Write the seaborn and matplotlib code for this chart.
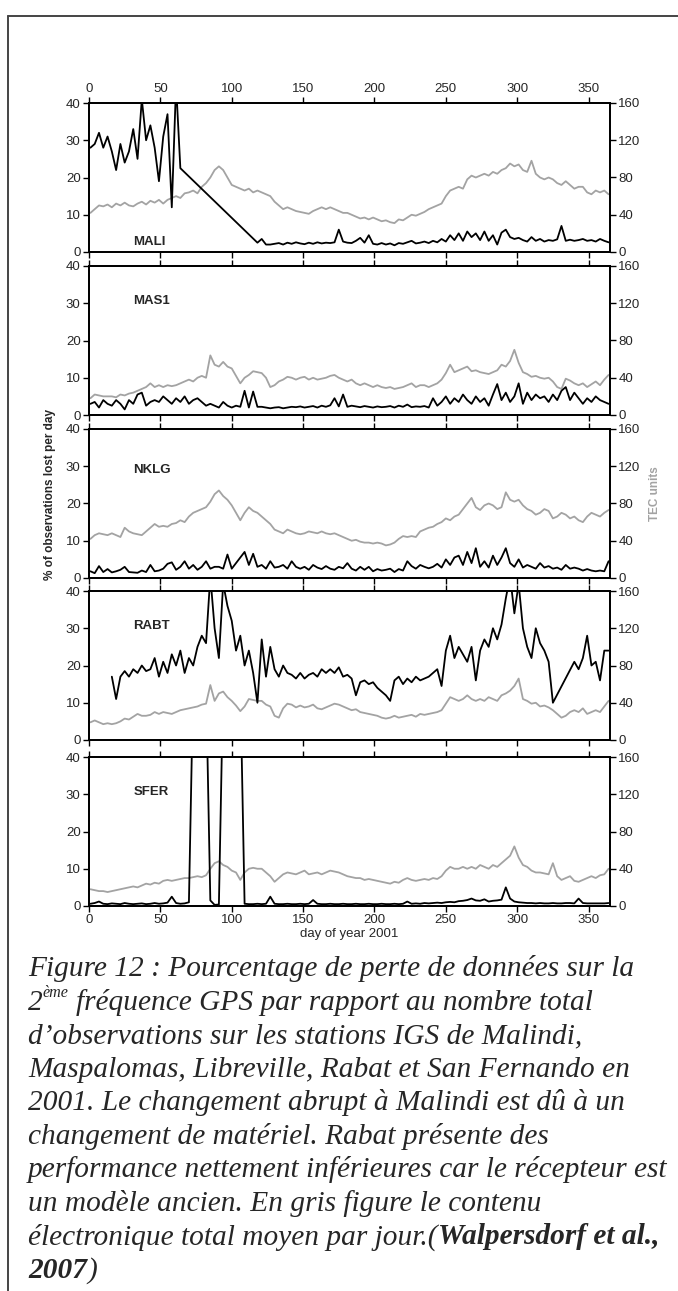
import matplotlib
matplotlib.use("Agg")
import matplotlib.pyplot as plt
from matplotlib.lines import Line2D
import numpy as np
import pandas as pd
import seaborn as sns

nan = np.nan

# day of year, sampled every 3 days (rows of 10 = 30 days)
days = list(range(1, 366, 3))
stations = ["MALI", "MAS1", "NKLG", "RABT", "SFER"]

# % of observations lost per day (left axis)
mali_lost = [28, 29, 32, 28, 31, 27, 22, 29, 24, 27,
             33, 25, 41, 30, 34, 28, 19, 31, 37, 12,
             45, 22.5, nan, nan, nan, nan, nan, nan, nan, nan,
             nan, nan, nan, nan, nan, nan, nan, nan, nan, 2.5,
             3.5, 2, 2, 2.2, 2.4, 2, 2.5, 2.2, 2.6, 2.3,
             2.1, 2.5, 2.2, 2.6, 2.3, 2.5, 2.4, 2.6, 6, 2.8,
             2.5, 2.4, 3, 3.8, 2.5, 4.5, 2.2, 2, 2.4, 2,
             2.3, 1.8, 2.4, 2.2, 2.6, 3, 2.3, 2.5, 2.8, 2.4,
             3, 2.6, 3.5, 2.8, 4.5, 3.2, 5, 3, 5.5, 4,
             5, 3.2, 5.5, 3, 4.5, 2, 5.2, 6, 4, 3.5,
             3.8, 3.2, 2.8, 4, 3, 3.5, 2.8, 3.2, 3, 3.4,
             7, 3, 3.3, 3, 3.2, 3.5, 3, 3.2, 2.8, 3.5,
             3, 2.6]
mas1_lost = [3, 3.5, 2, 4, 3, 2.5, 4, 3, 1.5, 4,
             3, 5.5, 6, 2.5, 3.5, 4, 3.5, 5, 4, 3,
             4.5, 3.5, 5, 3, 4, 4.5, 3.5, 2.5, 3, 2.5,
             2, 3.5, 2.5, 2, 2.5, 2.2, 6.5, 2, 6.3, 2.2,
             2.2, 2, 1.8, 2, 2.1, 1.8, 2, 2.2, 2.1, 2.3,
             2, 2.2, 2.4, 2, 2.5, 2.2, 2.6, 4.5, 2.3, 5.5,
             2.2, 2.5, 2.3, 2.1, 2.4, 2.2, 2, 2.3, 2.1, 2.2,
             2.4, 2, 2.5, 2.2, 2.8, 2.1, 2.3, 2.2, 2.4, 2,
             4.5, 2.5, 3.5, 5, 3, 4.5, 3.5, 5.5, 4, 3,
             5, 3.5, 4.5, 2.5, 5.5, 8.3, 4, 6, 3.5, 5,
             8.5, 3, 6, 4, 5.5, 4.5, 5, 3.5, 5.5, 4,
             6.5, 7.5, 4, 6, 4.5, 3, 4.5, 3.5, 5, 4,
             3.5, 3]
nklg_lost = [1.8, 1.3, 3.2, 1.6, 2.4, 1.5, 1.8, 2.2, 3, 1.6,
             1.5, 1.4, 2, 1.6, 3.5, 1.8, 2, 2.5, 3.8, 4.2,
             2.2, 3, 4.5, 2.5, 3.5, 2.2, 3, 4.5, 2.5, 3,
             3, 2.5, 6.3, 2.5, 4, 5.5, 7, 3.5, 6.5, 3,
             3.5, 2.5, 4.5, 2.8, 3, 3.5, 2.5, 4.5, 3, 2.5,
             3, 2.2, 3.5, 2.8, 2.4, 3.2, 2.5, 2.2, 3, 2.6,
             4, 2.5, 2, 3, 2.2, 3, 1.8, 2.4, 2, 2.2,
             2.5, 1.6, 2.4, 2, 4.5, 3.2, 2.5, 3.5, 3, 2.6,
             3, 3.8, 2.8, 5, 3.5, 5.5, 6, 3.5, 7, 4,
             8, 3, 4.5, 2.8, 6, 3.5, 5.5, 8, 4, 3,
             5, 2.8, 3.5, 3, 2.5, 4, 2.8, 3.2, 2.5, 2.8,
             2.2, 3.5, 2.5, 2.8, 2.5, 2, 2.4, 2, 1.8, 2,
             1.8, 4.5]
rabt_lost = [nan, nan, nan, nan, nan, 17, 11, 17, 18.5, 17,
             19, 18, 20, 18.5, 19, 22, 17, 21, 18, 23,
             20, 24, 18, 22, 20, 25, 28, 26, 44, 30,
             22, 42, 36, 32, 24, 28, 20, 24, 18, 10,
             27, 17, 25, 19, 17, 20, 18, 17.5, 16.5, 18,
             16.5, 17.5, 18, 17, 19, 18, 19, 18, 19.5, 17,
             17.5, 16.5, 12, 15.5, 16, 15, 15.5, 14, 13, 12,
             10.5, 16, 17, 15, 16.5, 15.5, 17, 16, 16.5, 17,
             18, 19, 14.5, 24, 28, 22, 25, 23, 21, 25,
             16, 24, 27, 25, 30, 27, 31, 38, 44, 34,
             42, 30, 25, 22, 30, 26, 24, 21, 10, nan,
             nan, nan, nan, 21, 19, 22, 28, 20, 21, 16,
             24, 24]
sfer_lost = [0.6, 0.8, 1.2, 0.6, 0.5, 0.7, 0.6, 0.5, 0.8, 0.6,
             0.5, 0.6, 0.7, 0.5, 0.6, 0.8, 0.6, 0.7, 0.9, 2.5,
             0.8, 0.6, 0.7, 1, 60, 60, 60, 60, 1.5, 0.3,
             0.4, 60, 60, 60, 60, 60, 0.6, 0.5, 0.5, 0.6,
             0.5, 0.6, 2.5, 0.6, 0.5, 0.5, 0.6, 0.5, 0.5, 0.6,
             0.5, 0.6, 1.6, 0.6, 0.5, 0.5, 0.6, 0.5, 0.5, 0.6,
             0.5, 0.5, 0.6, 0.5, 0.5, 0.6, 0.5, 0.5, 0.6, 0.5,
             0.5, 0.6, 0.5, 0.6, 1.2, 0.6, 0.7, 0.6, 0.8, 0.7,
             0.8, 0.9, 0.8, 1, 1.1, 1, 1.3, 1.4, 1.6, 2,
             1.5, 1.4, 1.8, 1.2, 1.4, 1.5, 1.7, 5, 2, 1.2,
             1, 0.9, 0.8, 0.8, 0.7, 0.8, 0.7, 0.7, 0.8, 0.7,
             0.7, 0.8, 0.8, 0.7, 2, 0.8, 0.7, 0.7, 0.7, 0.7,
             0.7, 0.8]

# mean total electron content per day, TEC units (right axis)
mali_tec = [42, 46, 50, 49, 51, 48, 52, 50, 53, 50,
            49, 52, 54, 51, 55, 53, 56, 52, 56, 58,
            60, 58, 63, 64, 66, 63, 70, 74, 80, 88,
            92, 88, 80, 72, 70, 68, 66, 68, 64, 66,
            64, 62, 60, 54, 50, 46, 48, 46, 44, 43,
            42, 41, 44, 46, 48, 46, 48, 46, 44, 42,
            42, 40, 38, 36, 37, 35, 37, 35, 33, 34,
            32, 31, 35, 34, 37, 40, 39, 41, 43, 46,
            48, 50, 52, 60, 66, 68, 70, 68, 78, 82,
            80, 82, 84, 82, 86, 84, 88, 90, 95, 92,
            94, 88, 86, 98, 84, 80, 78, 80, 78, 74,
            72, 76, 72, 68, 70, 70, 64, 62, 66, 64,
            66, 62]
mas1_tec = [18, 22, 21, 20, 20, 20, 19, 22, 21, 23,
            24, 26, 28, 30, 34, 30, 32, 30, 32, 31,
            32, 34, 36, 38, 36, 40, 42, 40, 64, 54,
            52, 57, 52, 50, 42, 34, 40, 43, 47, 46,
            45, 40, 30, 32, 36, 38, 41, 40, 38, 40,
            41, 38, 40, 38, 39, 40, 42, 43, 40, 38,
            36, 38, 34, 32, 34, 32, 30, 32, 30, 29,
            30, 28, 29, 30, 32, 34, 30, 32, 32, 30,
            32, 34, 38, 45, 54, 46, 48, 50, 52, 47,
            48, 46, 45, 44, 46, 48, 54, 52, 58, 70,
            56, 46, 44, 41, 42, 40, 39, 40, 36, 30,
            28, 39, 37, 34, 32, 34, 30, 33, 36, 32,
            38, 43]
nklg_tec = [42, 46, 48, 47, 46, 48, 46, 44, 54, 50,
            48, 47, 46, 50, 54, 58, 55, 56, 55, 58,
            59, 62, 60, 66, 70, 72, 74, 76, 82, 90,
            94, 88, 84, 78, 70, 62, 70, 76, 72, 70,
            66, 62, 58, 52, 50, 48, 52, 50, 48, 47,
            48, 50, 49, 48, 50, 48, 47, 48, 46, 44,
            42, 40, 41, 39, 38, 38, 37, 38, 37, 35,
            36, 38, 42, 45, 44, 45, 44, 50, 52, 54,
            55, 58, 60, 64, 62, 66, 68, 74, 80, 86,
            76, 73, 78, 80, 78, 74, 76, 92, 84, 82,
            84, 78, 74, 72, 68, 70, 74, 72, 64, 66,
            70, 68, 64, 66, 62, 60, 66, 70, 68, 66,
            70, 73]
rabt_tec = [19, 21, 19, 17, 18, 17, 18, 20, 23, 22,
            25, 28, 26, 26, 27, 30, 28, 30, 29, 28,
            30, 32, 33, 34, 35, 36, 38, 39, 59, 42,
            50, 52, 46, 42, 37, 31, 36, 44, 43, 42,
            42, 38, 36, 26, 24, 34, 39, 38, 35, 37,
            35, 36, 38, 34, 33, 35, 37, 39, 38, 36,
            34, 32, 33, 30, 29, 28, 27, 26, 24, 23,
            24, 26, 24, 25, 26, 27, 25, 28, 27, 28,
            29, 30, 32, 39, 46, 44, 42, 44, 48, 44,
            42, 44, 42, 46, 44, 42, 48, 50, 53, 58,
            66, 44, 42, 39, 40, 36, 37, 35, 32, 28,
            24, 26, 30, 32, 30, 34, 28, 30, 32, 30,
            36, 42]
sfer_tec = [18, 17, 16, 16, 15, 16, 17, 18, 19, 20,
            21, 20, 22, 24, 23, 25, 24, 27, 28, 27,
            28, 29, 30, 30, 31, 32, 31, 33, 40, 46,
            48, 44, 42, 38, 36, 28, 36, 40, 41, 40,
            40, 36, 32, 26, 30, 34, 36, 35, 34, 36,
            38, 34, 35, 36, 34, 36, 38, 37, 36, 34,
            32, 31, 30, 30, 28, 29, 28, 27, 26, 25,
            24, 26, 25, 28, 30, 28, 27, 28, 29, 28,
            30, 29, 32, 38, 42, 40, 40, 42, 40, 42,
            40, 44, 42, 40, 44, 42, 46, 50, 54, 64,
            52, 44, 42, 38, 36, 36, 35, 34, 46, 32,
            28, 30, 32, 27, 26, 28, 30, 32, 30, 33,
            34, 40]

lost = dict(zip(stations, [mali_lost, mas1_lost, nklg_lost, rabt_lost, sfer_lost]))
tec = dict(zip(stations, [mali_tec, mas1_tec, nklg_tec, rabt_tec, sfer_tec]))
label_y = {"MALI": 2.8, "MAS1": 30.5, "NKLG": 29, "RABT": 30.5, "SFER": 30.5}

sns.set_theme(style="ticks")
plt.rcParams["font.family"] = ["Liberation Sans", "DejaVu Sans"]
narrow = ["Liberation Sans Narrow", "Liberation Sans", "DejaVu Sans"]

W, H = 678, 1291
GREY = "#a3a3a3"
fig = plt.figure(figsize=(W / 100, H / 100), dpi=100)

tops = [103, 266, 429, 591, 757]
ph = 149
left, right = 89, 610

for i, st in enumerate(stations):
    ax = fig.add_axes([left / W, 1 - (tops[i] + ph) / H, (right - left) / W, ph / H])
    ax2 = ax.twinx()
    ax.set_zorder(ax2.get_zorder() + 1)
    ax.patch.set_visible(False)

    tec_df = pd.DataFrame({"day": days, "tec": tec[st]}).dropna()
    lost_df = pd.DataFrame({"day": days, "lost": lost[st]}).dropna()
    sns.lineplot(data=tec_df, x="day", y="tec", ax=ax2, color=GREY,
                 linewidth=1.3, estimator=None)
    sns.lineplot(data=lost_df, x="day", y="lost", ax=ax, color="black",
                 linewidth=1.3, estimator=None)

    ax.set_xlim(0, 365)
    ax.set_ylim(0, 40)
    ax2.set_ylim(0, 160)
    ax.set_xticks(range(0, 351, 50))
    ax.set_yticks([0, 10, 20, 30, 40])
    ax2.set_yticks([0, 40, 80, 120, 160])
    ax.set_xlabel("")
    ax.set_ylabel("")
    ax2.set_ylabel("")

    ax.tick_params(axis="x", direction="out", length=4, width=1, color="black",
                   top=True, bottom=True, labeltop=(i == 0),
                   labelbottom=(i == len(stations) - 1), labelsize=9.5, pad=2)
    ax.tick_params(axis="y", direction="out", length=4, width=1, color="black",
                   labelsize=9.5, pad=2)
    ax2.tick_params(axis="y", direction="out", length=4, width=1, color="black",
                    labelsize=9.5, pad=2)
    for a in (ax, ax2):
        for sp in a.spines.values():
            sp.set_visible(True)
            sp.set_color("black")
            sp.set_linewidth(1.3)

    ax.text(31, label_y[st], st, fontsize=9.5, fontweight="bold", va="center")

    if i == len(stations) - 1:
        ax.set_xlabel("day of year 2001", fontsize=9.5, family=narrow, labelpad=1)

fig.text(50 / W, 1 - 494 / H, "% of observations lost per day", rotation=90,
         ha="center", va="center", fontsize=8.5, fontweight="bold", family=narrow)
fig.text(655 / W, 1 - 494 / H, "TEC units", rotation=90, ha="center",
         va="center", fontsize=8.5, fontweight="bold", color=GREY, family=narrow)

# page frame
fig.add_artist(Line2D([8 / W, 1], [1 - 16 / H, 1 - 16 / H], transform=fig.transFigure,
                      color="#444444", linewidth=1.4))
fig.add_artist(Line2D([8 / W, 8 / W], [1 - 16 / H, 0], transform=fig.transFigure,
                      color="#444444", linewidth=1.4))

# caption
serif = ["Liberation Serif", "DejaVu Serif"]
renderer = fig.canvas.get_renderer()
cap_left = 28
line_h = 33.5
first_center = 967


def text_width(s, size, weight="normal"):
    t = fig.text(0, 0, s, fontsize=size, style="italic", weight=weight, family=serif)
    w = t.get_window_extent(renderer).width
    t.remove()
    return w


fs = 20
ref_line = "performance nettement inférieures car le récepteur est"
fs = fs * (668 - cap_left) / text_width(ref_line, fs)

caption = [
    [("Figure 12 : Pourcentage de perte de données sur la", "normal", 1.0, 0)],
    [("2", "normal", 1.0, 0), ("ème", "normal", 0.55, 0.45), ("SP", "normal", 1.0, 0),
     ("fréquence GPS par rapport au nombre total", "normal", 1.0, 0)],
    [("d’observations sur les stations IGS de Malindi,", "normal", 1.0, 0)],
    [("Maspalomas, Libreville, Rabat et San Fernando en", "normal", 1.0, 0)],
    [("2001. Le changement abrupt à Malindi est dû à un", "normal", 1.0, 0)],
    [("changement de matériel. Rabat présente des", "normal", 1.0, 0)],
    [(ref_line, "normal", 1.0, 0)],
    [("un modèle ancien. En gris figure le contenu", "normal", 1.0, 0)],
    [("électronique total moyen par jour.(", "normal", 1.0, 0),
     ("Walpersdorf et al.,", "bold", 1.0, 0)],
    [("2007", "bold", 1.0, 0), (")", "normal", 1.0, 0)],
]

space_w = text_width("a a", fs) - text_width("aa", fs)
for k, runs in enumerate(caption):
    y_px = first_center + k * line_h
    x_px = cap_left
    for s, weight, scale, rise in runs:
        if s == "SP":
            x_px += space_w
            continue
        size = fs * scale
        y_base = y_px + fs * 1.39 * 0.32 - rise * fs * 1.39
        t = fig.text(x_px / W, 1 - y_base / H, s, fontsize=size, style="italic",
                     weight=weight, family=serif, va="baseline", ha="left")
        x_px += t.get_window_extent(renderer).width

fig.savefig("out.png", dpi=100, facecolor="white")
